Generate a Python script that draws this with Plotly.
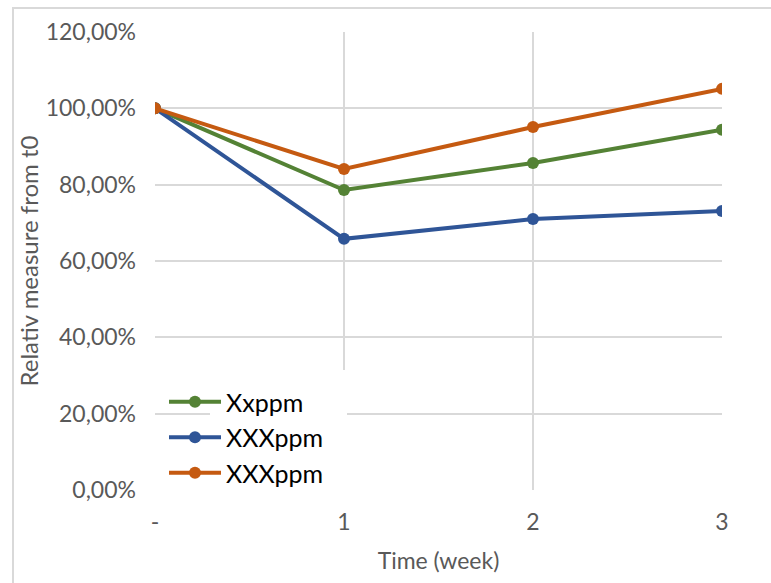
import plotly.graph_objects as go

# Week index and relative measures (% of t0)
weeks = [0, 1, 2, 3]
week_labels = ["-", "1", "2", "3"]
series_names = ["Xxppm", "XXXppm", "XXXppm"]
xx_ppm = [100.0, 78.6, 85.7, 94.4]
xxx_ppm_a = [100.0, 65.8, 71.0, 73.1]
xxx_ppm_b = [100.0, 84.1, 95.1, 105.1]
colors = ["#548235", "#2f5597", "#c55a11"]
y_ticks = [0, 20, 40, 60, 80, 100, 120]

FONT = "Lato, Carlito, Calibri, sans-serif"
GRID = "#d9d9d9"

fig = go.Figure()
for i, (name, vals, col) in enumerate(zip(series_names, [xx_ppm, xxx_ppm_a, xxx_ppm_b], colors)):
    fig.add_trace(go.Scatter(
        x=weeks, y=vals, name=name, mode="lines+markers",
        line=dict(color=col, width=4),
        marker=dict(color=col, size=12),
        legendgroup=f"g{i}",
    ))

W, H = 771, 583
L, R, T, B = 155, 49, 32, 93
pw, ph = W - L - R, H - T - B

def px(xpix):
    return (xpix - L) / pw

def py(ypix):
    return (H - B - ypix) / ph

fig.update_layout(
    width=W, height=H,
    margin=dict(l=L, r=R, t=T, b=B),
    paper_bgcolor="white", plot_bgcolor="white",
    font=dict(family=FONT, color="#595959", size=22),
    showlegend=True,
    legend=dict(
        x=px(164), y=py(379), xanchor="left", yanchor="top",
        bgcolor="rgba(0,0,0,0)",
        font=dict(family=FONT, size=25, color="#000000"),
        itemwidth=52,
        tracegroupgap=0,
    ),
    xaxis=dict(
        range=[0, 3],
        tickvals=weeks, ticktext=week_labels,
        showgrid=True, gridcolor=GRID, gridwidth=2,
        zeroline=False, showline=False,
        ticks="", ticklabelstandoff=16,
        tickfont=dict(size=23),
        title=dict(text="Time (week)", font=dict(size=23, color="#595959"), standoff=18),
        fixedrange=True,
    ),
    yaxis=dict(
        range=[0, 120],
        tickvals=y_ticks,
        ticktext=[f"{v:.2f}%".replace(".", ",") for v in y_ticks],
        showgrid=True, gridcolor=GRID, gridwidth=2,
        zeroline=False, showline=False,
        ticks="", ticklabelstandoff=18,
        tickfont=dict(size=23),
        title=dict(text="Relativ measure from t0", font=dict(size=24, color="#595959"), standoff=0),
        fixedrange=True,
    ),
    shapes=[
        # chart-area border
        dict(type="rect", xref="paper", yref="paper",
             x0=px(13), x1=px(790), y0=py(600), y1=py(8),
             line=dict(color=GRID, width=2), fillcolor="rgba(0,0,0,0)", layer="below"),
        # white backing behind legend labels
        dict(type="rect", xref="paper", yref="paper",
             x0=px(210), x1=px(347), y0=py(492), y1=py(370),
             line=dict(width=0), fillcolor="white", layer="above"),
    ],
)

fig.write_html("out.html")
